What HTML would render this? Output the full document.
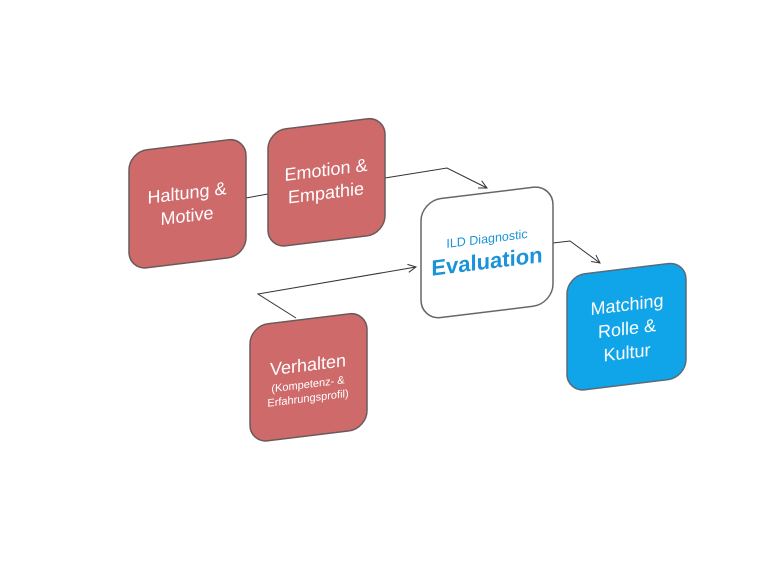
<!DOCTYPE html>
<html><head><meta charset="utf-8"><style>
html,body{margin:0;padding:0;background:#fff;width:784px;height:588px;overflow:hidden}
svg text{font-family:"Liberation Sans",sans-serif}
</style></head><body>
<svg width="784" height="588" viewBox="0 0 784 588" xmlns="http://www.w3.org/2000/svg">
<defs>
<marker id="a" markerWidth="10" markerHeight="10" refX="9" refY="5" orient="auto" markerUnits="userSpaceOnUse">
<path d="M1,1 L9,5 L1,9" fill="none" stroke="#333" stroke-width="1"/></marker>
</defs>
<g fill="none" stroke="#333" stroke-width="1">
<path d="M246,198 L268,194"/>
<path d="M385,178 L447,168 L487,188" marker-end="url(#a)"/>
<path d="M296,318 L258,294 L416,267" marker-end="url(#a)"/>
<path d="M553,243 L570,241 L600,263" marker-end="url(#a)"/>
</g>
<g transform="translate(129,152) skewY(-7)">
<rect x="0" y="0" width="117" height="118" rx="18" fill="#cf6a6b" stroke="#6b5a5a" stroke-width="1.5"/>
<text x="58" y="54" font-size="18" fill="#fff" text-anchor="middle">Haltung &amp;</text>
<text x="58" y="77" font-size="18" fill="#fff" text-anchor="middle">Motive</text>
</g>
<g transform="translate(268,131) skewY(-7)">
<rect x="0" y="0" width="117" height="117" rx="18" fill="#cf6a6b" stroke="#6b5a5a" stroke-width="1.5"/>
<text x="58" y="52" font-size="18" fill="#fff" text-anchor="middle">Emotion &amp;</text>
<text x="58" y="75" font-size="18" fill="#fff" text-anchor="middle">Empathie</text>
</g>
<g transform="translate(421,201) skewY(-7)">
<rect x="0" y="0" width="132" height="119" rx="20" fill="#fff" stroke="#666" stroke-width="1.5"/>
<text x="66" y="50" font-size="12.5" fill="#1a93d8" text-anchor="middle">ILD Diagnostic</text>
<text x="66" y="76" font-size="22" font-weight="bold" fill="#1a93d8" text-anchor="middle">Evaluation</text>
</g>
<g transform="translate(567,276) skewY(-7)">
<rect x="0" y="0" width="119" height="116" rx="18" fill="#10a5e8" stroke="#5a6a78" stroke-width="1.5"/>
<text x="60" y="42" font-size="18" fill="#fff" text-anchor="middle">Matching</text>
<text x="60" y="66" font-size="18" fill="#fff" text-anchor="middle">Rolle &amp;</text>
<text x="60" y="90" font-size="18" fill="#fff" text-anchor="middle">Kultur</text>
</g>
<g transform="translate(250,326) skewY(-7)">
<rect x="0" y="0" width="117" height="117" rx="18" fill="#cf6a6b" stroke="#6b5a5a" stroke-width="1.5"/>
<text x="58" y="52" font-size="18" fill="#fff" text-anchor="middle">Verhalten</text>
<text x="58" y="69" font-size="11" fill="#fff" text-anchor="middle">(Kompetenz- &amp;</text>
<text x="58" y="83" font-size="11" fill="#fff" text-anchor="middle">Erfahrungsprofil)</text>
</g>
</svg>
</body></html>
